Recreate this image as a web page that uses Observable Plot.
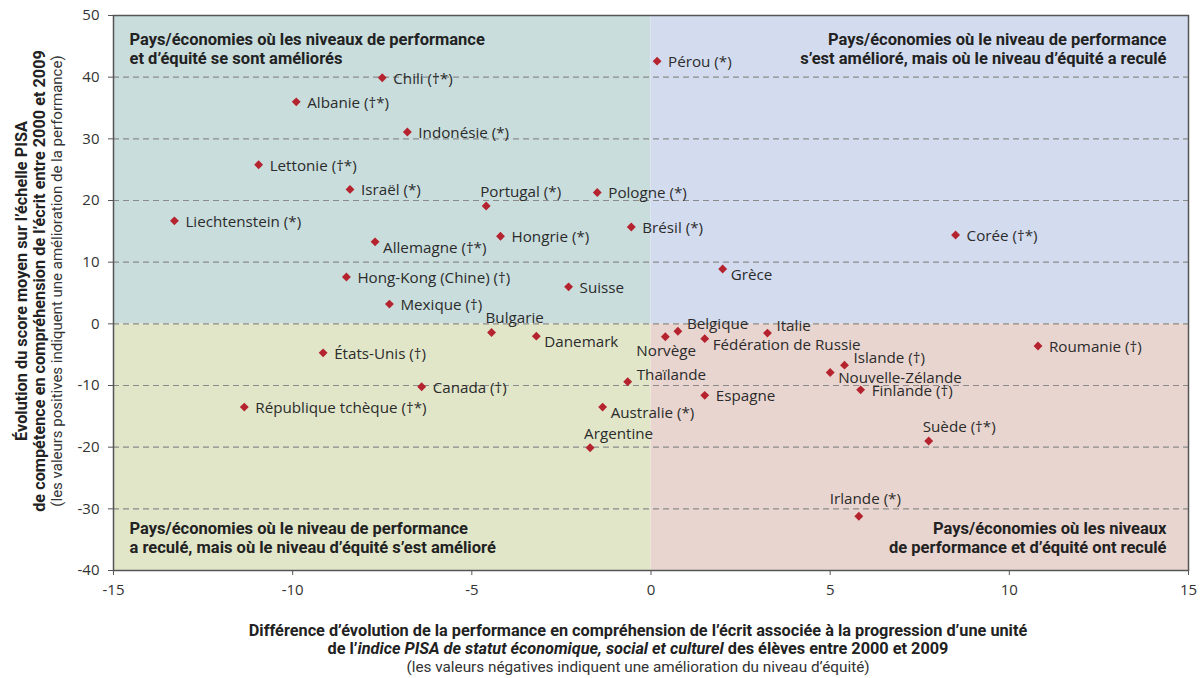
<!DOCTYPE html>
<html>
<head>
<meta charset="utf-8">
<script src="https://cdn.jsdelivr.net/npm/d3@7"></script>
<script src="https://cdn.jsdelivr.net/npm/@observablehq/plot@0.6"></script>
<style>
  html, body { margin: 0; padding: 0; background: #fff; }
  #chart { width: 1200px; height: 678px; position: relative; overflow: hidden; }
  .xtitle { width: 1200px; box-sizing: border-box; padding: 12px 0 0 76px; text-align: center; font-family: Roboto, sans-serif; color: #222; line-height: 18px; }
  .xtitle .b { font-weight: 700; font-size: 16.3px; }
  .xtitle .s { font-size: 15.3px; color: #333; }
</style>
</head>
<body>
<div id="chart"></div>
<script>
// ---- data ----
const countries = [
  "Chili (†*)", "Albanie (†*)", "Indonésie (*)", "Lettonie (†*)", "Israël (*)",
  "Portugal (*)", "Pologne (*)", "Liechtenstein (*)", "Brésil (*)", "Allemagne (†*)",
  "Hongrie (*)", "Hong-Kong (Chine) (†)", "Suisse", "Mexique (†)", "Pérou (*)",
  "Corée (†*)", "Grèce", "Bulgarie", "Danemark", "États-Unis (†)",
  "Canada (†)", "Thaïlande", "République tchèque (†*)", "Australie (*)", "Argentine",
  "Norvège", "Belgique", "Fédération de Russie", "Italie", "Roumanie (†)",
  "Islande (†)", "Nouvelle-Zélande", "Finlande (†)", "Espagne", "Suède (†*)",
  "Irlande (*)"
];
const equityChange = [
  -7.5, -9.9, -6.8, -10.95, -8.4,
  -4.6, -1.5, -13.3, -0.55, -7.7,
  -4.2, -8.5, -2.3, -7.3, 0.17,
  8.5, 2.0, -4.45, -3.2, -9.15,
  -6.4, -0.65, -11.35, -1.35, -1.7,
  0.4, 0.75, 1.5, 3.25, 10.8,
  5.4, 5.0, 5.85, 1.5, 7.75,
  5.8
];
const scoreChange = [
  39.9, 36.0, 31.1, 25.8, 21.8,
  19.1, 21.3, 16.7, 15.7, 13.3,
  14.2, 7.6, 6.0, 3.2, 42.6,
  14.4, 8.9, -1.4, -2.0, -4.7,
  -10.2, -9.4, -13.5, -13.5, -20.1,
  -2.1, -1.2, -2.4, -1.5, -3.6,
  -6.7, -7.9, -10.7, -11.6, -19.0,
  -31.2
];
// label placement code relative to marker: r = right, a = above, br = below-right,
// ar = above-right, bl = below-left, al = above-left
const labelPlacement = [
  "r", "r", "r", "r", "r",
  "a", "r", "r", "r", "br",
  "r", "r", "r", "r", "r",
  "r", "br", "a", "br", "r",
  "r", "ar", "r", "br", "a",
  "bl", "ar", "br", "ar", "r",
  "ar", "br", "r", "r", "a",
  "al"
];
const xDomain = [-15, 15];
const yDomain = [-40, 50];
const xTicks = [-15, -10, -5, 0, 5, 10, 15];
const yTicks = [-40, -30, -20, -10, 0, 10, 20, 30, 40, 50];
const gridValues = [-30, -20, -10, 0, 10, 20, 30, 40];
const quadrantLabels = [
  "Pays/économies où les niveaux de performance\net d’équité se sont améliorés",
  "Pays/économies où le niveau de performance\ns’est amélioré, mais où le niveau d’équité a reculé",
  "Pays/économies où le niveau de performance\na reculé, mais où le niveau d’équité s’est amélioré",
  "Pays/économies où les niveaux\nde performance et d’équité ont reculé"
];
const yTitle = [
  "Évolution du score moyen sur l’échelle PISA",
  "de compétence en compréhension de l’écrit entre 2000 et 2009",
  "(les valeurs positives indiquent une amélioration de la performance)"
];

// ---- build tables ----
const points = countries.map((name, i) => ({
  name, x: equityChange[i], y: scoreChange[i], pos: labelPlacement[i]
}));
const quadrants = [
  {x1: xDomain[0], x2: 0, y1: 0, y2: yDomain[1], fill: "#c9dddd"},
  {x1: 0, x2: xDomain[1], y1: 0, y2: yDomain[1], fill: "#d3dcef"},
  {x1: xDomain[0], x2: 0, y1: yDomain[0], y2: 0, fill: "#e1e6c9"},
  {x1: 0, x2: xDomain[1], y1: yDomain[0], y2: 0, fill: "#e9d5cf"}
];

const labelFont = "'Open Sans', Lato, sans-serif";
const titleFont = "Roboto, sans-serif";
const placements = {
  r:  {dx: 11, dy: 1},
  a:  {dx: -6, dy: -14},
  br: {dx: 8, dy: 6},
  ar: {dx: 9, dy: -7},
  bl: {dx: -29, dy: 14},
  al: {dx: -29, dy: -17}
};
const labelMarks = Object.entries(placements).map(([code, o]) =>
  Plot.text(points.filter(d => d.pos === code), {
    x: "x", y: "y", text: "name", dx: o.dx, dy: o.dy,
    textAnchor: "start", fill: "#2b2b2b", fontSize: 15.2, fontFamily: labelFont
  })
);

const qStyle = {fontSize: 16.5, fontWeight: 700, fontFamily: titleFont, fill: "#222", lineHeight: 1.1};
const plainTick = d => `${d}`;

const chart = Plot.plot({
  width: 1200,
  height: 610,
  marginLeft: 113,
  marginRight: 12,
  marginTop: 15,
  marginBottom: 40,
  style: {background: "transparent", fontFamily: labelFont},
  x: {domain: xDomain},
  y: {domain: yDomain},
  marks: [
    Plot.rect(quadrants, {x1: "x1", x2: "x2", y1: "y1", y2: "y2", fill: "fill"}),
    Plot.ruleY(gridValues, {stroke: "#8a8a8a", strokeWidth: 1.2, strokeDasharray: "6,4"}),
    Plot.frame({stroke: "#555", strokeWidth: 1.5}),
    Plot.axisY({ticks: yTicks, tickFormat: plainTick, tickSize: 5, tickPadding: 9, label: null, stroke: "#555",
      fill: "#333", fontSize: 15, fontFamily: labelFont}),
    Plot.axisX({ticks: xTicks, tickFormat: plainTick, tickSize: 5, tickPadding: 9, label: null, stroke: "#555",
      fill: "#333", fontSize: 15, fontFamily: labelFont}),
    Plot.text([quadrantLabels[0]], {text: d => d, frameAnchor: "top-left", textAnchor: "start", lineAnchor: "top", dx: 16, dy: 17, ...qStyle}),
    Plot.text([quadrantLabels[1]], {text: d => d, frameAnchor: "top-right", textAnchor: "end", lineAnchor: "top", dx: -22, dy: 17, ...qStyle}),
    Plot.text([quadrantLabels[2]], {text: d => d, frameAnchor: "bottom-left", textAnchor: "start", lineAnchor: "bottom", dx: 16, dy: -18, ...qStyle}),
    Plot.text([quadrantLabels[3]], {text: d => d, frameAnchor: "bottom-right", textAnchor: "end", lineAnchor: "bottom", dx: -22, dy: -18, ...qStyle}),
    Plot.text([yTitle[0]], {text: d => d, frameAnchor: "left", textAnchor: "middle", rotate: -90, dx: -92, dy: -12,
      fontSize: 16.3, fontWeight: 700, fontFamily: titleFont, fill: "#222"}),
    Plot.text([yTitle[1]], {text: d => d, frameAnchor: "left", textAnchor: "middle", rotate: -90, dx: -74, dy: -12,
      fontSize: 16.3, fontWeight: 700, fontFamily: titleFont, fill: "#222"}),
    Plot.text([yTitle[2]], {text: d => d, frameAnchor: "left", textAnchor: "middle", rotate: -90, dx: -56, dy: -12,
      fontSize: 15, fontFamily: titleFont, fill: "#333"}),
    Plot.dot(points, {x: "x", y: "y", symbol: "diamond2", r: 4, fill: "#b5232f", stroke: null}),
    ...labelMarks
  ]
});

const root = document.getElementById("chart");
root.appendChild(chart);
const cap = document.createElement("div");
cap.className = "xtitle";
cap.innerHTML =
  '<div class="b">Différence d’évolution de la performance en compréhension de l’écrit associée à la progression d’une unité</div>' +
  '<div class="b">de l’<i>indice PISA de statut économique, social et culturel</i> des élèves entre 2000 et 2009</div>' +
  '<div class="s">(les valeurs négatives indiquent une amélioration du niveau d’équité)</div>';
root.appendChild(cap);
</script>
</body>
</html>
